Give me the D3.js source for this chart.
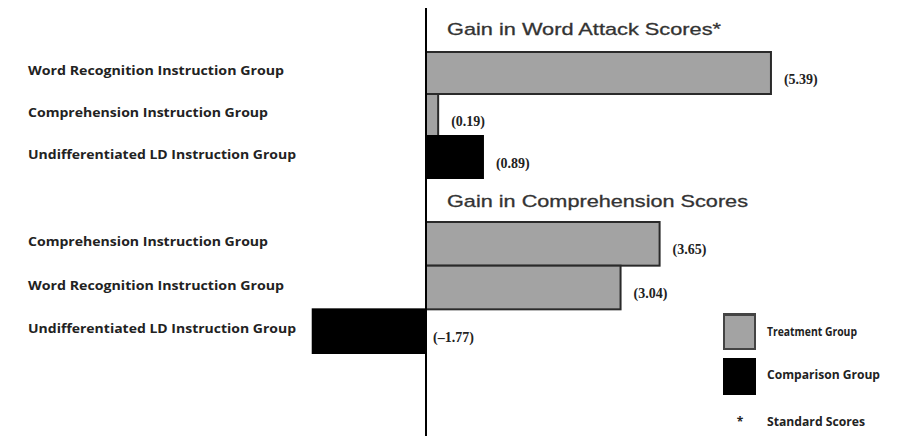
<!DOCTYPE html>
<html><head><meta charset="utf-8">
<script src="https://cdn.jsdelivr.net/npm/d3@7"></script>
<style>body{margin:0;background:#fff}svg{display:block}</style>
</head><body>
<script>
const titles = ["Gain in Word Attack Scores*", "Gain in Comprehension Scores"];
const wordAttackCategories = ["Word Recognition Instruction Group","Comprehension Instruction Group","Undifferentiated LD Instruction Group"];
const wordAttackValues = [5.39, 0.19, 0.89];
const wordAttackGroups = ["Treatment","Treatment","Comparison"];
const comprehensionCategories = ["Comprehension Instruction Group","Word Recognition Instruction Group","Undifferentiated LD Instruction Group"];
const comprehensionValues = [3.65, 3.04, -1.77];
const comprehensionGroups = ["Treatment","Treatment","Comparison"];
const valueLabels1 = ["(5.39)","(0.19)","(0.89)"];
const valueLabels2 = ["(3.65)","(3.04)","(\u20131.77)"];
const legendLabels = ["Treatment Group","Comparison Group","Standard Scores"];

const W = 899, H = 436;
const svg = d3.select("body").append("svg").attr("width", W).attr("height", H);
const x = d3.scaleLinear().domain([-2, 6]).range([298, 810]);
const color = d3.scaleOrdinal().domain(["Treatment","Comparison"]).range(["#a3a3a3","#000000"]);

const sections = [
  {title: titles[0], cats: wordAttackCategories, vals: wordAttackValues, groups: wordAttackGroups, labels: valueLabels1, range:[52,178], titleY: 35},
  {title: titles[1], cats: comprehensionCategories, vals: comprehensionValues, groups: comprehensionGroups, labels: valueLabels2, range:[222,353], titleY: 207}
];

const catFont = "'Open Sans', sans-serif";
const numFont = "'Liberation Serif', serif";

sections.forEach(s => {
  const y = d3.scaleBand().domain(s.cats).range(s.range).paddingInner(0);
  const g = svg.append("g");
  g.append("text").attr("x", 447).attr("y", s.titleY).text(s.title)
    .attr("font-family", "'Liberation Sans', Arial, sans-serif").attr("font-size", 17)
    .attr("fill", "#333").attr("stroke","#333").attr("stroke-width",0.3)
    .attr("textLength", s === sections[0] ? 274 : 301).attr("lengthAdjust","spacingAndGlyphs");
  const data = s.cats.map((c,i)=>({c, v:s.vals[i], grp:s.groups[i], lab:s.labels[i]}));
  g.selectAll("rect").data(data).enter().append("rect")
    .attr("x", d => x(Math.min(0,d.v)))
    .attr("y", d => y(d.c))
    .attr("width", d => Math.abs(x(d.v)-x(0)))
    .attr("height", y.bandwidth())
    .attr("fill", d => color(d.grp))
    .attr("stroke", d => d.grp === "Treatment" ? "#2a2a2a" : "#000")
    .attr("stroke-width", 2);
  g.selectAll("text.cat").data(data).enter().append("text").attr("class","cat")
    .attr("x", 28).attr("y", d => y(d.c) + y.bandwidth()/2 - 3)
    .attr("dominant-baseline","central")
    .attr("font-family", catFont).attr("font-weight","bold").attr("font-size", 13)
    .attr("fill","#222")
    .attr("textLength", d => d.c.startsWith("Word") ? 256 : d.c.startsWith("Comp") ? 240 : 268)
    .attr("lengthAdjust","spacingAndGlyphs")
    .text(d => d.c);
  g.selectAll("text.val").data(data).enter().append("text").attr("class","val")
    .attr("x", d => d.v >= 0 ? x(d.v) + 13 : x(0) + 7)
    .attr("y", d => y(d.c) + y.bandwidth()/2 + 6)
    .attr("dominant-baseline","central")
    .attr("font-family", numFont).attr("font-weight","bold").attr("font-size", 14)
    .attr("fill","#222")
    .text(d => d.lab);
});

// zero axis line
svg.append("line").attr("x1", x(0)).attr("x2", x(0)).attr("y1", 8).attr("y2", H)
  .attr("stroke","#000").attr("stroke-width",2);

// legend
const lg = svg.append("g");
const legendKeys = ["Treatment","Comparison"];
lg.selectAll("rect").data(legendKeys).enter().append("rect")
  .attr("x", 724).attr("y", (d,i) => 314 + i*45).attr("width", 31).attr("height", 35)
  .attr("fill", d => color(d)).attr("stroke", d => d === "Treatment" ? "#444" : "#000").attr("stroke-width", 2);
lg.append("rect").attr("x",724).attr("y",313).attr("width",31).attr("height",3).attr("fill","#444");
lg.selectAll("text.lt").data(legendLabels).enter().append("text").attr("class","lt")
  .attr("x", 767).attr("y", (d,i) => [331, 374, 421][i])
  .attr("dominant-baseline","central")
  .attr("font-family", catFont).attr("font-weight","bold").attr("font-size", 12)
  .attr("fill","#222")
  .attr("textLength", (d,i) => [90, 113, 98][i]).attr("lengthAdjust","spacingAndGlyphs")
  .text(d => d);
lg.append("text").attr("x", 740).attr("y", 421).attr("text-anchor","middle").attr("dominant-baseline","central")
  .attr("font-family", catFont).attr("font-weight","bold").attr("font-size", 12).attr("fill","#222").text("*");
</script>
</body></html>
